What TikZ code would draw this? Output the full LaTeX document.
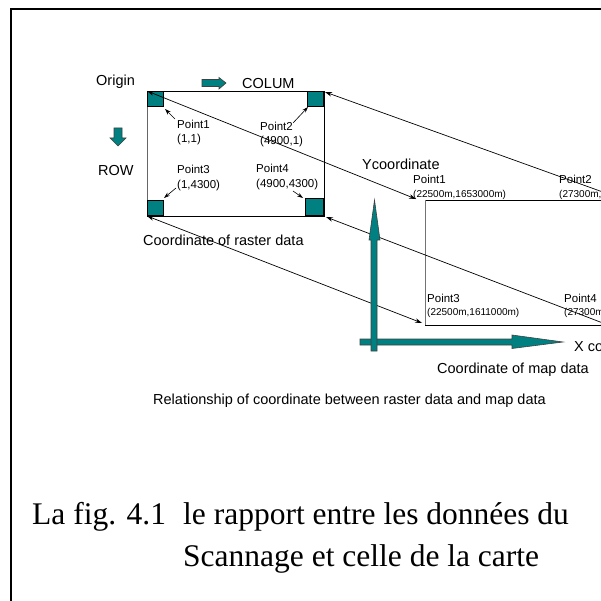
\documentclass[tikz,border=0pt]{standalone}
\usepackage{fontspec}
\setmainfont{Liberation Serif}
\setsansfont{Liberation Sans}
\usetikzlibrary{arrows.meta}
\definecolor{tealc}{RGB}{0,128,128}
\tikzset{
  lbl/.style={font=\sffamily\fontsize{11.5}{12}\selectfont, inner sep=0pt, anchor=base west},
  crd/.style={font=\sffamily\fontsize{10}{11}\selectfont, inner sep=0pt, anchor=base west},
  big/.style={font=\sffamily\fontsize{14.5}{16}\selectfont, inner sep=0pt, anchor=base west},
  captxt/.style={font=\fontsize{31.5}{34}\selectfont, inner sep=0pt, anchor=base west},
  sq/.style={draw=black, fill=tealc, line width=0.6pt, inner sep=0pt, minimum width=16pt, minimum height=15pt},
  blk/.style={draw=black!75, fill=tealc, line width=0.6pt},
  ptr/.style={-{Stealth[length=6pt,width=4pt]}, line width=0.6pt},
  link/.style={{Stealth[length=7pt,width=4.5pt]}-{Stealth[length=7pt,width=4.5pt]}, line width=0.7pt},
}
\begin{document}
\begin{tikzpicture}[x=1pt,y=-1pt]
\clip (0,0) rectangle (601,601);
\fill[white] (0,0) rectangle (601,601);
% frame
\draw[line width=2pt] (11,605) -- (11,9) -- (605,9);

% raster rectangle corners
\coordinate (r1) at (147,91);
\coordinate (r2) at (324,91);
\coordinate (r3) at (147,216);
\coordinate (r4) at (324,216);
\draw[line width=0.8pt] (r1) -- (r2) -- (r4) -- (r3);
\draw[line width=0.8pt, black!60] (r3) -- (r1);

% teal squares
\node[sq, anchor=north west] (s1) at (r1) {};
\node[sq, anchor=north east] (s2) at (r2) {};
\node[sq, anchor=south west] (s3) at (r3) {};
\node[sq, anchor=south east, minimum width=18pt, minimum height=17pt] (s4) at (r4) {};

% map rectangle
\coordinate (m1) at (425,200);
\coordinate (m3) at (425,325);
\coordinate (m1e) at (640,200);
\coordinate (m3e) at (640,325);
\draw[line width=0.8pt] (m1) -- (m1e);
\draw[line width=0.8pt] (m3) -- (m3e);
\draw[line width=0.6pt, black!55] (m1) -- (m3);

% link endpoints at the map
\coordinate (t1) at (416,199);
\coordinate (t2) at (625,200);
\coordinate (t3) at (422,323);
\coordinate (t4) at (608,325);
\coordinate (u2) at (325,92);
\coordinate (u4) at (326,217);

% links raster <-> map
\draw[link] (r1) -- (t1);
\draw[link] (u2) -- (t2);
\draw[link] (r3) -- (t3);
\draw[link] (u4) -- (t4);

% block arrows
\draw[blk] (202,79.5) -- (219,79.5) -- (219,77.5) -- (226,83) -- (219,89) -- (219,86.5) -- (202,86.5) -- cycle;
\draw[blk] (114,128) -- (122,128) -- (122,138) -- (126,138) -- (118,146) -- (110,138) -- (114,138) -- cycle;

% axes
\draw[blk] (360,339) -- (512,339) -- (512,335) -- (563,342) -- (512,348.5) -- (512,345) -- (360,345) -- cycle;
\draw[blk] (371,351) -- (371,240) -- (369,240) -- (374.5,200) -- (380,240) -- (377,240) -- (377,351) -- cycle;

% labels raster
\node[big] (origin) at (96,86) {Origin};
\node[big] (colum) at (242,89) {COLUM};
\node[big] (row) at (98,176) {ROW};
\node[lbl] (p1) at (177,129) {Point1};
\node[lbl] (p1c) at (177,143) {(1,1)};
\node[lbl] (p2) at (260,131) {Point2};
\node[lbl] (p2c) at (260,145) {(4900,1)};
\node[lbl] (p3) at (177,174) {Point3};
\node[lbl] (p3c) at (177,189) {(1,4300)};
\node[lbl] (p4) at (256,173) {Point4};
\node[lbl] (p4c) at (256,188) {(4900,4300)};
\node[big] (rastercap) at (143,245) {Coordinate of raster data};

% pointer arrows
\coordinate (a1s) at (175,119); \coordinate (a1e) at (165,109);
\coordinate (a2s) at (293,123); \coordinate (a2e) at (308,107);
\coordinate (a3s) at (176,188); \coordinate (a3e) at (164,198);
\coordinate (a4s) at (293,191); \coordinate (a4e) at (303,198);
\draw[ptr] (a1s) -- (a1e);
\draw[ptr] (a2s) -- (a2e);
\draw[ptr] (a3s) -- (a3e);
\draw[ptr] (a4s) -- (a4e);

% labels map
\node[big] (ycoord) at (362,170) {Ycoordinate};
\node[lbl] (q1) at (413,184) {Point1};
\node[crd] (q1c) at (413,198) {(22500m,1653000m)};
\node[lbl] (q2) at (559,184) {Point2};
\node[crd] (q2c) at (559,198) {(27300m,1653000m)};
\node[lbl] (q3) at (427,302) {Point3};
\node[crd] (q3c) at (427,315) {(22500m,1611000m)};
\node[lbl] (q4) at (564,302) {Point4};
\node[crd] (q4c) at (564,315) {(27300m,1611000m)};
\node[big] (xcoord) at (574,351) {X coordinate};
\node[big] (mapcap) at (437,373) {Coordinate of map data};
\node[big] (rel) at (153,404) {Relationship of coordinate between raster data and map data};

% caption
\node[captxt] (c1) at (32,524) {La fig. 4.1};
\node[captxt] (c2) at (183,524) {le rapport entre les données du};
\node[captxt] (c3) at (183,566) {Scannage et celle de la carte};
\end{tikzpicture}
\end{document}
